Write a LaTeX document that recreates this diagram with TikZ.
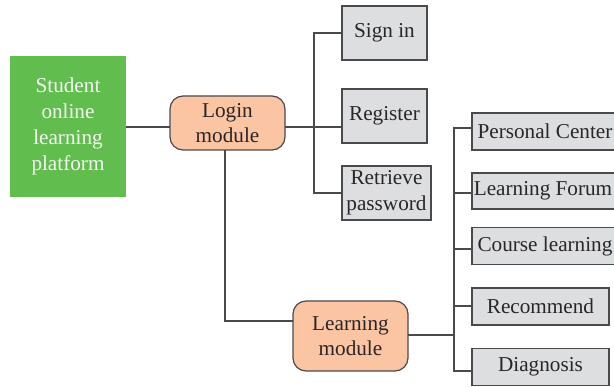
\documentclass[tikz,border=0pt]{standalone}
\usepackage{fontspec}
\setmainfont{Liberation Serif}
\definecolor{linec}{HTML}{4A4A4C}
\definecolor{greenc}{HTML}{62BD4F}
\definecolor{orangec}{HTML}{FBC4A2}
\definecolor{grayc}{HTML}{DDDEE0}
\definecolor{inkc}{HTML}{2A2627}
\tikzset{
  every node/.style={font=\fontsize{21.2}{25.8}\selectfont,align=center,inner sep=0pt,outer sep=0pt,text=inkc},
  conn/.style={draw=linec,line width=1.4pt},
  root/.style={fill=greenc,text=white!92!greenc,minimum width=116pt,minimum height=141pt},
  module/.style={draw=linec,line width=1.2pt,fill=orangec,rounded corners=13pt,minimum width=115pt},
  leaf/.style={draw=linec,line width=1.4pt,fill=grayc}
}
\begin{document}
\begin{tikzpicture}[x=1pt,y=-1pt]
\useasboundingbox (0,0) rectangle (614,387);
\node[root] (root) at (68,126.5) {Student\\online\\learning\\platform};
\node[module,minimum height=54pt] (login) at (227.5,123) {Login\\module};
\node[module,minimum height=70pt] (learn) at (350.5,336) {Learning\\module};
\node[leaf,minimum width=85pt,minimum height=54pt] (signin) at (384.5,33) {Sign in};
\node[leaf,minimum width=85pt,minimum height=54pt] (register) at (384.5,116) {Register};
\node[leaf,minimum width=89pt,minimum height=54pt] (retrieve) at (386.5,193) {Retrieve\\password};
\node[leaf,minimum width=146pt,minimum height=37pt] (personal) at (545,131.5) {Personal Center};
\node[leaf,minimum width=146pt,minimum height=36pt] (forum) at (545,191) {\hspace*{-4pt}Learning Forum};
\node[leaf,minimum width=146pt,minimum height=37pt] (course) at (545,246) {Course learning};
\node[leaf,minimum width=137pt,minimum height=37pt] (recommend) at (540.5,306.5) {Recommend};
\node[leaf,minimum width=137pt,minimum height=37pt] (diagnosis) at (540.5,367) {Diagnosis};
\coordinate (busa) at (314,127);
\coordinate (busb) at (454,335);
\coordinate (lturn) at (225,321);
\draw[conn] (root.east |- 0,127) -- (login.west |- 0,127);
\draw[conn] (login.east |- busa) -- (busa) -- (register.west |- busa);
\draw[conn] (signin.west) -| (busa) |- (retrieve.west);
\draw[conn] (lturn |- login.south) -- (lturn) -- (learn.west |- lturn);
\draw[conn] (learn.east |- busb) -- (busb);
\draw[conn] (personal.west |- 0,128) -| (busb) |- (diagnosis.west |- 0,371);
\draw[conn] (forum.west |- 0,193) -- (busb |- 0,193);
\draw[conn] (course.west |- 0,249) -- (busb |- 0,249);
\draw[conn] (recommend.west |- 0,306) -- (busb |- 0,306);
\end{tikzpicture}
\end{document}
